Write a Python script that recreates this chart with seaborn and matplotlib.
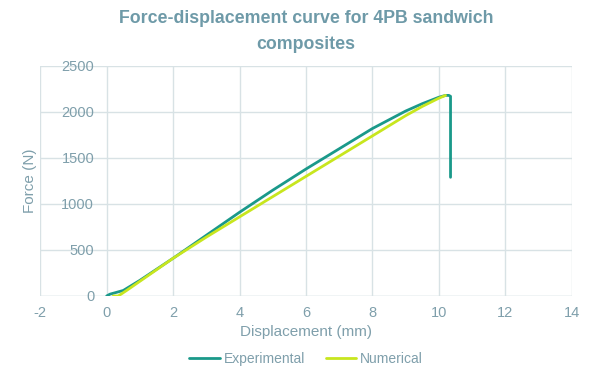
import numpy as np
import pandas as pd
import seaborn as sns
import matplotlib.pyplot as plt

# data
exp_x = [0, 0.1, 0.3, 0.5, 1, 2, 3, 4, 5, 6, 7, 8, 9, 9.5, 10, 10.2, 10.3, 10.35, 10.35]
exp_y = [0, 20, 40, 60, 170, 410, 660, 910, 1150, 1380, 1600, 1820, 2010, 2090, 2160, 2180, 2180, 2170, 1290]
num_x = [0.2, 0.35, 0.6, 1, 2, 3, 4, 5, 6, 7, 8, 9, 9.5, 10, 10.2]
num_y = [0, 0, 60, 160, 410, 640, 860, 1080, 1300, 1520, 1740, 1960, 2060, 2150, 2180]

df = pd.concat([
    pd.DataFrame({"Displacement": exp_x, "Force": exp_y, "series": "Experimental"}),
    pd.DataFrame({"Displacement": num_x, "Force": num_y, "series": "Numerical"}),
])

sns.set_theme(style="whitegrid")
plt.rcParams["font.family"] = ["Liberation Sans", "DejaVu Sans"]
plt.rcParams["axes.unicode_minus"] = False
txt = "#7f9fab"
grid = "#d8e2e5"

fig, ax = plt.subplots(figsize=(6, 3.79), dpi=100)
fig.subplots_adjust(left=0.067, right=0.953, top=0.826, bottom=0.219)

sns.lineplot(data=df, x="Displacement", y="Force", hue="series", sort=False,
             estimator=None, units=None,
             palette={"Experimental": "#1a998a", "Numerical": "#c8e61e"},
             linewidth=2, ax=ax)

ax.set_xlim(-2, 14)
ax.set_ylim(0, 2500)
ax.set_xticks(np.arange(-2, 15, 2))
ax.set_yticks(np.arange(0, 2501, 500))
ax.grid(True, color=grid, linewidth=1)
for s in ax.spines.values():
    s.set_visible(False)
# Excel-style: value axis crosses at x = 0
ax.spines["left"].set_position(("data", 0))
ax.axhline(0, color=grid, linewidth=1, zorder=0)
ax.tick_params(colors=txt, labelsize=10.5, length=0)
ax.tick_params(axis="x", pad=7)
ax.tick_params(axis="y", pad=9)
ax.set_xlabel("Displacement (mm)", color=txt, fontsize=11)
ax.set_ylabel("Force (N)", color=txt, fontsize=11)
ax.yaxis.set_label_coords(-0.006, 0.5)
ax.set_title("Force-displacement curve for 4PB sandwich\ncomposites", color="#6e9aa8",
             fontsize=12.8, fontweight="bold", pad=12, linespacing=1.75)

leg = ax.legend(loc="upper center", bbox_to_anchor=(0.5, -0.19), ncol=2, frameon=False,
                fontsize=10, handlelength=2.2, columnspacing=1.5, handletextpad=0.25)
for t in leg.get_texts():
    t.set_color(txt)

plt.savefig("out.png", dpi=100)
